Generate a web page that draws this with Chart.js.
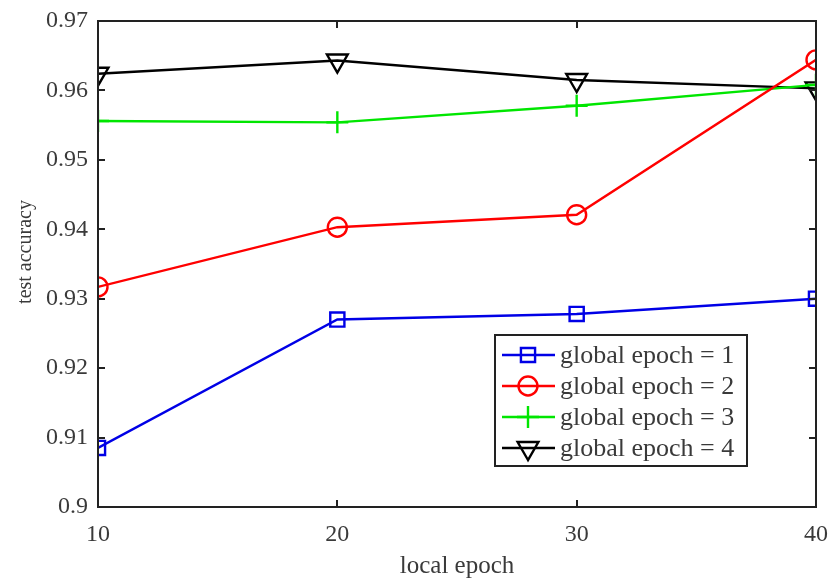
<!DOCTYPE html>
<html>
<head>
<meta charset="utf-8">
<script src="https://cdn.jsdelivr.net/npm/chart.js@4/dist/chart.umd.min.js"></script>
<style>
  html, body { margin: 0; padding: 0; background: #fff; }
  #wrap { width: 831px; height: 581px; }
</style>
</head>
<body>
<div id="wrap"><canvas id="c" width="831" height="581"></canvas></div>
<script>
// Local epochs on the x axis
const localEpochs = [10, 20, 30, 40];
// Test accuracy for each global-epoch setting
const acc1 = [0.9085, 0.9270, 0.9278, 0.9300];
const acc2 = [0.9317, 0.9403, 0.9421, 0.9644];
const acc3 = [0.9556, 0.9554, 0.9578, 0.9608];
const acc4 = [0.9624, 0.9643, 0.9615, 0.9603];
const seriesLabels = ['global epoch = 1', 'global epoch = 2', 'global epoch = 3', 'global epoch = 4'];
const xTicks = [10, 20, 30, 40];
const yTicks = [0.9, 0.91, 0.92, 0.93, 0.94, 0.95, 0.96, 0.97];
const yTitle = 'test accuracy';

const SERIF = '"Liberation Serif", "DejaVu Serif", serif';
const TEXT = '#3a3a3a';

function toPoints(vals) {
  return localEpochs.map((x, i) => ({ x: x, y: vals[i] }));
}

const styles = [
  { color: '#0000e6', pointStyle: 'rect', radius: 10, rotation: 0 },
  { color: '#ff0000', pointStyle: 'circle', radius: 9.5, rotation: 0 },
  { color: '#00e600', pointStyle: 'cross', radius: 11, rotation: 0 },
  { color: '#000000', pointStyle: 'triangle', radius: 12, rotation: 180 }
];

const datasets = [acc1, acc2, acc3, acc4].map((vals, i) => ({
  label: seriesLabels[i],
  data: toPoints(vals),
  borderColor: styles[i].color,
  backgroundColor: 'rgba(0,0,0,0)',
  borderWidth: 2.4,
  pointStyle: styles[i].pointStyle,
  pointRadius: styles[i].radius,
  pointRotation: styles[i].rotation,
  pointBorderColor: styles[i].color,
  pointBackgroundColor: 'rgba(0,0,0,0)',
  pointBorderWidth: 2.4,
  tension: 0
}));

// Box around the plot with inward ticks on all four sides, plus the y title
const frame = {
  id: 'frame',
  afterDatasetsDraw(chart) {
    const { ctx, chartArea: a, scales } = chart;
    ctx.save();
    ctx.strokeStyle = '#222';
    ctx.lineWidth = 2;
    ctx.strokeRect(a.left, a.top, a.right - a.left, a.bottom - a.top);
    const L = 7;
    ctx.beginPath();
    yTicks.forEach(v => {
      const y = Math.round(scales.y.getPixelForValue(v));
      ctx.moveTo(a.left, y); ctx.lineTo(a.left + L, y);
      ctx.moveTo(a.right, y); ctx.lineTo(a.right - L, y);
    });
    xTicks.forEach(v => {
      const x = Math.round(scales.x.getPixelForValue(v));
      ctx.moveTo(x, a.bottom); ctx.lineTo(x, a.bottom - L);
      ctx.moveTo(x, a.top); ctx.lineTo(x, a.top + L);
    });
    ctx.stroke();

    ctx.translate(26, 252);
    ctx.rotate(-Math.PI / 2);
    ctx.font = '20px ' + SERIF;
    ctx.fillStyle = TEXT;
    ctx.textAlign = 'center';
    ctx.textBaseline = 'middle';
    ctx.fillText(yTitle, 0, 0);
    ctx.restore();
  }
};

// Boxed legend placed inside the plot, lower right
const innerLegend = {
  id: 'innerLegend',
  afterDraw(chart) {
    const { ctx } = chart;
    const box = { x: 495, y: 335, w: 252, h: 131 };
    ctx.save();
    ctx.fillStyle = '#fff';
    ctx.fillRect(box.x, box.y, box.w, box.h);
    ctx.strokeStyle = '#222';
    ctx.lineWidth = 2;
    ctx.strokeRect(box.x, box.y, box.w, box.h);
    ctx.textBaseline = 'middle';
    ctx.textAlign = 'left';
    chart.data.datasets.forEach((ds, i) => {
      const y = box.y + 20 + i * 31;
      ctx.strokeStyle = ds.borderColor;
      ctx.lineWidth = ds.borderWidth;
      ctx.beginPath();
      ctx.moveTo(box.x + 7, y);
      ctx.lineTo(box.x + 60, y);
      ctx.stroke();
      ctx.fillStyle = 'rgba(0,0,0,0)';
      Chart.helpers.drawPoint(ctx, {
        pointStyle: ds.pointStyle,
        radius: ds.pointRadius,
        rotation: ds.pointRotation,
        borderWidth: ds.pointBorderWidth
      }, box.x + 33, y);
      ctx.font = '26px ' + SERIF;
      ctx.fillStyle = TEXT;
      ctx.fillText(ds.label, box.x + 65, y + 1);
    });
    ctx.restore();
  }
};

new Chart(document.getElementById('c'), {
  type: 'line',
  data: { datasets: datasets },
  options: {
    responsive: false,
    animation: false,
    layout: { padding: { top: 21, right: 15, left: 0, bottom: 0 } },
    plugins: { legend: { display: false }, tooltip: { enabled: false } },
    scales: {
      x: {
        type: 'linear',
        min: 10, max: 40,
        afterBuildTicks(s) { s.ticks = xTicks.map(v => ({ value: v })); },
        afterFit(s) { s.height = 74; s.paddingLeft = 0; s.paddingRight = 0; },
        grid: { display: false, drawTicks: false },
        border: { display: false },
        ticks: {
          padding: 13,
          color: TEXT,
          font: { family: SERIF, size: 24 },
          callback: v => String(v)
        },
        title: {
          display: true,
          text: 'local epoch',
          color: TEXT,
          font: { family: SERIF, size: 25 },
          padding: { top: 0, bottom: 0 }
        }
      },
      y: {
        type: 'linear',
        min: 0.9, max: 0.97,
        afterBuildTicks(s) { s.ticks = yTicks.map(v => ({ value: v })); },
        afterFit(s) { s.width = 98; s.paddingTop = 0; s.paddingBottom = 0; },
        grid: { display: false, drawTicks: false },
        border: { display: false },
        ticks: {
          padding: 10,
          color: TEXT,
          font: { family: SERIF, size: 24 },
          callback: v => String(Number(v.toFixed(2)))
        },
        title: { display: false }
      }
    }
  },
  plugins: [frame, innerLegend]
});
</script>
</body>
</html>
